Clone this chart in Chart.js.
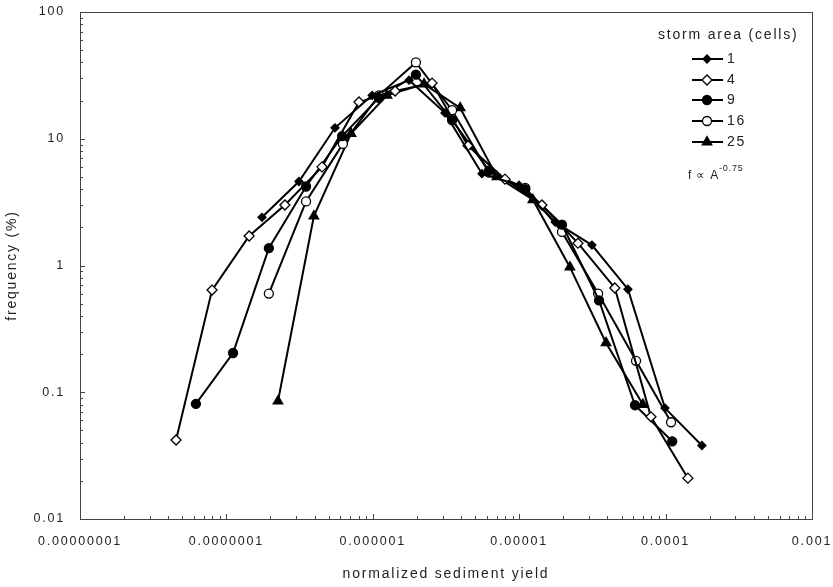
<!DOCTYPE html>
<html><head><meta charset="utf-8">
<script src="https://cdn.jsdelivr.net/npm/chart.js@4/dist/chart.umd.min.js"></script>
<style>html,body{margin:0;padding:0;background:#fff;}</style>
</head><body>
<canvas id="c" width="833" height="587"></canvas>
<script>
// ---- data ----
const seriesNames = ['1', '4', '9', '16', '25'];

const yield_1 = [1.75e-7, 3.13e-7, 5.52e-7, 9.9e-7, 1.77e-6, 3.11e-6, 5.57e-6, 9.98e-6, 1.76e-5, 3.14e-5, 5.53e-5, 9.9e-5, 1.77e-4];
const freq_1  = [2.4, 4.6, 12.2, 22, 29, 16, 5.3, 4.3, 2.2, 1.45, 0.65, 0.075, 0.038];

const yield_4 = [4.53e-8, 7.98e-8, 1.43e-7, 2.51e-7, 4.5e-7, 8.05e-7, 1.42e-6, 2.54e-6, 4.47e-6, 8.0e-6, 1.43e-5, 2.52e-5, 4.5e-5, 7.94e-5, 1.42e-4];
const freq_4  = [0.042, 0.64, 1.71, 3.0, 6.0, 19.5, 23.8, 27.5, 8.8, 4.8, 3.0, 1.5, 0.665, 0.064, 0.021];

const yield_9 = [6.19e-8, 1.11e-7, 1.95e-7, 3.5e-7, 6.17e-7, 1.10e-6, 1.97e-6, 3.48e-6, 6.22e-6, 1.10e-5, 1.96e-5, 3.51e-5, 6.18e-5, 1.11e-4];
const freq_9  = [0.081, 0.204, 1.37, 4.2, 10.5, 21, 32, 14, 5.6, 4.0, 2.1, 0.53, 0.079, 0.041];

const yield_16 = [1.95e-7, 3.5e-7, 6.25e-7, 1.1e-6, 1.97e-6, 3.48e-6, 6.22e-6, 1.1e-5, 1.96e-5, 3.46e-5, 6.28e-5, 1.09e-4];
const freq_16  = [0.6, 3.2, 9.1, 22, 40, 16.8, 5.4, 4.1, 1.84, 0.6, 0.177, 0.058];

const yield_25 = [2.25e-7, 3.96e-7, 7.1e-7, 1.25e-6, 2.24e-6, 3.95e-6, 7.05e-6, 1.24e-5, 2.22e-5, 3.92e-5, 7.0e-5];
const freq_25  = [0.085, 2.45, 11, 22, 27, 17.5, 5.0, 3.3, 0.97, 0.245, 0.08];

const xTickValues = [1e-8, 1e-7, 1e-6, 1e-5, 1e-4, 1e-3];
const xTickLabels = ['0.00000001', '0.0000001', '0.000001', '0.00001', '0.0001', '0.001'];
const yTickValues = [0.01, 0.1, 1, 10, 100];
const yTickLabels = ['0.01', '0.1', '1', '10', '100'];

const xTitle = 'normalized sediment yield';
const yTitle = 'frequency (%)';
const legendTitle = 'storm area (cells)';
const noteText = 'f \u221D A';
const noteSup = '-0.75';

// ---- chart ----
const FONT = "'Liberation Sans', Arial, sans-serif";
const TEXT = '#222';
const LS = '1.8px';

function pairs(xs, ys) { return xs.map((x, i) => ({x: x, y: ys[i]})); }

const styles = [
  {pointStyle: 'rectRot', radius: 4, fill: '#000'},
  {pointStyle: 'rectRot', radius: 5, fill: '#fff'},
  {pointStyle: 'circle', radius: 4.5, fill: '#000'},
  {pointStyle: 'circle', radius: 4.5, fill: '#fff'},
  {pointStyle: 'triangle', radius: 5.5, fill: '#000'}
];
const allX = [yield_1, yield_4, yield_9, yield_16, yield_25];
const allY = [freq_1, freq_4, freq_9, freq_16, freq_25];

const datasets = seriesNames.map((n, i) => ({
  label: n,
  data: pairs(allX[i], allY[i]),
  borderColor: '#000',
  borderWidth: 2,
  backgroundColor: styles[i].fill,
  pointStyle: styles[i].pointStyle,
  pointRadius: styles[i].radius,
  pointBackgroundColor: styles[i].fill,
  pointBorderColor: '#000',
  pointBorderWidth: 1.3,
  tension: 0,
  fill: false
}));

const spacingPlugin = {
  id: 'spacing',
  beforeUpdate(chart) { chart.ctx.letterSpacing = LS; },
  beforeLayout(chart) { chart.ctx.letterSpacing = LS; },
  beforeDraw(chart) { chart.ctx.letterSpacing = LS; }
};

const framePlugin = {
  id: 'frame',
  afterDraw(chart) {
    const ctx = chart.ctx, a = chart.chartArea;
    const xs = chart.scales.x, ys = chart.scales.y;
    ctx.save();
    ctx.strokeStyle = '#444';
    ctx.lineWidth = 1;
    ctx.strokeRect(Math.round(a.left) + 0.5, Math.round(a.top) + 0.5, Math.round(a.right - a.left), Math.round(a.bottom - a.top));
    ctx.beginPath();
    for (let d = -2; d <= 2; d++) {
      for (let m = 1; m <= 9; m++) {
        const v = m * Math.pow(10, d);
        if (v > 100.0001) continue;
        const py = Math.round(ys.getPixelForValue(v)) + 0.5;
        const len = m === 1 ? 5 : 3;
        ctx.moveTo(a.left, py); ctx.lineTo(a.left + len, py);
      }
    }
    for (let d = -8; d <= -3; d++) {
      for (let m = 1; m <= 9; m++) {
        const v = m * Math.pow(10, d);
        if (v > 1.0001e-3) continue;
        const px = Math.round(xs.getPixelForValue(v)) + 0.5;
        const len = m === 1 ? 5 : 3;
        ctx.moveTo(px, a.bottom); ctx.lineTo(px, a.bottom - len);
      }
    }
    ctx.stroke();
    ctx.restore();
  }
};

const legendPlugin = {
  id: 'sketchLegend',
  afterDraw(chart) {
    const ctx = chart.ctx;
    ctx.save();
    ctx.letterSpacing = LS;
    ctx.fillStyle = TEXT;
    ctx.font = '14px ' + FONT;
    ctx.textBaseline = 'middle';
    ctx.textAlign = 'left';
    ctx.fillText(legendTitle, 658, 35);
    const rowY = [59, 80, 100, 121, 142];
    seriesNames.forEach((n, i) => {
      const y = rowY[i];
      const ds = chart.data.datasets[i];
      ctx.strokeStyle = '#000';
      ctx.lineWidth = 2;
      ctx.beginPath(); ctx.moveTo(692, y); ctx.lineTo(723, y); ctx.stroke();
      ctx.fillStyle = ds.pointBackgroundColor;
      ctx.lineWidth = 1.3;
      Chart.helpers.drawPoint(ctx, {pointStyle: ds.pointStyle, radius: ds.pointRadius, borderWidth: 1.3, rotation: 0}, 707, y);
      ctx.fillStyle = TEXT;
      ctx.fillText(n, 727, y);
    });
    ctx.font = '12px ' + FONT;
    ctx.letterSpacing = '0.8px';
    ctx.fillText(noteText, 688, 176);
    const w = ctx.measureText(noteText).width;
    ctx.font = '9px ' + FONT;
    ctx.fillText(noteSup, 688 + w, 169);
    ctx.restore();
  }
};

new Chart(document.getElementById('c'), {
  type: 'line',
  data: {datasets: datasets},
  plugins: [spacingPlugin, framePlugin, legendPlugin],
  options: {
    responsive: false,
    animation: false,
    devicePixelRatio: 1,
    layout: {padding: {top: 12, right: 21, left: 0, bottom: 0}},
    plugins: {legend: {display: false}, tooltip: {enabled: false}},
    scales: {
      x: {
        type: 'logarithmic',
        min: 1e-8, max: 1e-3,
        afterFit(s) { s.height = 68; s.paddingLeft = 0; s.paddingRight = 0; },
        afterBuildTicks(s) { s.ticks = xTickValues.map(v => ({value: v})); },
        grid: {display: false, drawTicks: false},
        border: {display: false},
        ticks: {
          autoSkip: false, maxRotation: 0, padding: 15,
          color: TEXT, font: {family: FONT, size: 12.5},
          callback: (v, i) => xTickLabels[i]
        },
        title: {display: true, text: xTitle, color: TEXT, font: {family: FONT, size: 14}, padding: {top: 0, bottom: 4}}
      },
      y: {
        type: 'logarithmic',
        min: 0.01, max: 100,
        afterFit(s) { s.width = 80; s.paddingTop = 0; s.paddingBottom = 0; },
        afterBuildTicks(s) { s.ticks = yTickValues.map(v => ({value: v})); },
        grid: {display: false, drawTicks: false},
        border: {display: false},
        ticks: {
          autoSkip: false, padding: 15,
          color: TEXT, font: {family: FONT, size: 12.5},
          callback: (v, i) => yTickLabels[i]
        },
        title: {display: true, text: yTitle, color: TEXT, font: {family: FONT, size: 14}, padding: {top: 4, bottom: 0}}
      }
    }
  }
});
</script>
</body></html>
